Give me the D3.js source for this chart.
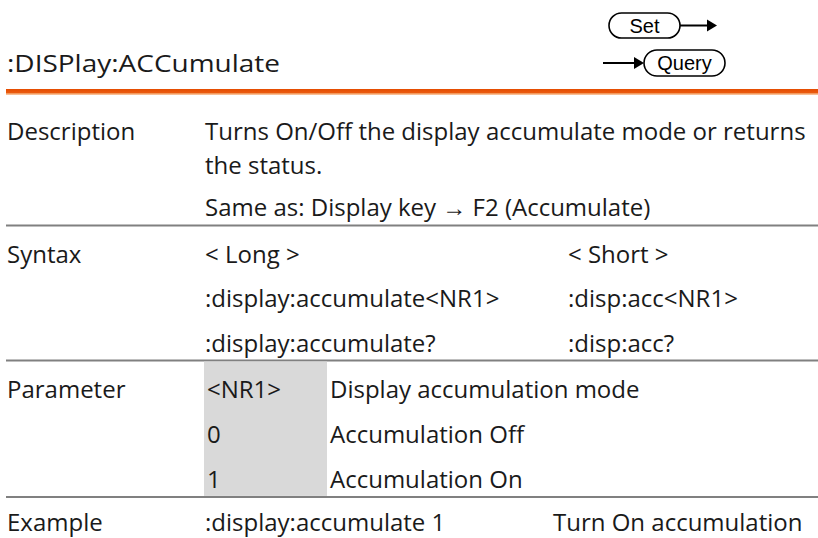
<!DOCTYPE html>
<html><head><meta charset="utf-8">
<script src="https://cdn.jsdelivr.net/npm/d3@7"></script>
<style>
html,body{margin:0;padding:0;background:#fff;}
svg{display:block;}
</style></head>
<body>
<svg id="c" width="818" height="538"></svg>
<script>
const title = ":DISPlay:ACCumulate";
const badges = ["Set", "Query"];
const rowLabels = ["Description", "Syntax", "Parameter", "Example"];
const descLines = ["Turns On/Off the display accumulate mode or returns", "the status.", "Same as: Display key \u2192 F2 (Accumulate)"];
const syntaxLong = ["< Long >", ":display:accumulate<NR1>", ":display:accumulate?"];
const syntaxShort = ["< Short >", ":disp:acc<NR1>", ":disp:acc?"];
const paramCodes = ["<NR1>", "0", "1"];
const paramDescs = ["Display accumulation mode", "Accumulation Off", "Accumulation On"];
const exampleCmd = [":display:accumulate 1"];
const exampleDesc = ["Turn On accumulation"];

const W = 818, H = 538;
const svg = d3.select("#c");
const FONT = "'Open Sans', 'Noto Sans', sans-serif";
const FS = 24;
const TXT = "#1a1a1a";

// column positions
const col = d3.scaleOrdinal().domain(["label","c2","c3","pdesc","ex2"]).range([7,205,568,330,553]);

// Title
svg.append("text").attr("x",7).attr("y",72).attr("font-family",FONT).attr("font-size",24)
  .attr("fill",TXT).attr("textLength",273).attr("lengthAdjust","spacingAndGlyphs").text(title);

// Orange rule
const grad = svg.append("defs").append("linearGradient").attr("id","og").attr("x1",0).attr("x2",0).attr("y1",0).attr("y2",1);
grad.append("stop").attr("offset","0%").attr("stop-color","#e54c00");
grad.append("stop").attr("offset","62%").attr("stop-color","#ea5a10");
grad.append("stop").attr("offset","75%").attr("stop-color","#f39a5e");
grad.append("stop").attr("offset","100%").attr("stop-color","#fbd0b0");
svg.append("rect").attr("x",6).attr("y",89).attr("width",W-6).attr("height",6).attr("fill","url(#og)");

// Badges
function pill(x0,x1,yc,h,label){
  svg.append("rect").attr("x",x0).attr("y",yc-h/2).attr("width",x1-x0).attr("height",h)
    .attr("rx",h/2).attr("ry",h/2).attr("fill","#fff").attr("stroke","#000").attr("stroke-width",1.6);
  svg.append("text").attr("x",(x0+x1)/2).attr("y",yc+7).attr("text-anchor","middle")
    .attr("font-family","'Liberation Sans', Arial, sans-serif").attr("font-size",20).attr("fill","#000").text(label);
}
function arrow(x0,x1,yc){
  svg.append("line").attr("x1",x0).attr("x2",x1-8).attr("y1",yc).attr("y2",yc).attr("stroke","#000").attr("stroke-width",2);
  svg.append("path").attr("d",`M${x1-10},${yc-6}L${x1},${yc}L${x1-10},${yc+6}Z`).attr("fill","#000");
}
pill(609,680,25.5,25,badges[0]);
arrow(680,717,25.5);
arrow(603,644,63);
pill(644,725,63,26,badges[1]);

// Gray rules
const rules = [225.5, 360.5, 497];
svg.selectAll("line.rule").data(rules).join("line").attr("class","rule")
  .attr("x1",6).attr("x2",W).attr("y1",d=>d).attr("y2",d=>d).attr("stroke","#808080").attr("stroke-width",2.2);

// Gray parameter cell
svg.append("rect").attr("x",204).attr("y",rules[1]+1.1).attr("width",123).attr("height",rules[2]-rules[1]-2.2).attr("fill","#d9d9d9");

function txt(x,yy,s){
  svg.append("text").attr("x",x).attr("y",yy).attr("font-family",FONT).attr("font-size",FS).attr("fill",TXT).text(s);
}
// Row baselines
const descY = [140, 174, 216];
const synY = [263, 307, 352];
const parY = [398, 443, 488];
const exY = [531];

txt(col("label"), descY[0], rowLabels[0]);
descLines.forEach((s,i)=>txt(col("c2"), descY[i], s));

txt(col("label"), synY[0], rowLabels[1]);
syntaxLong.forEach((s,i)=>txt(col("c2"), synY[i], s));
syntaxShort.forEach((s,i)=>txt(col("c3"), synY[i], s));

txt(col("label"), parY[0], rowLabels[2]);
paramCodes.forEach((s,i)=>txt(col("c2")+2, parY[i], s));
paramDescs.forEach((s,i)=>txt(col("pdesc"), parY[i], s));

txt(col("label"), exY[0], rowLabels[3]);
exampleCmd.forEach((s,i)=>txt(col("c2"), exY[i], s));
exampleDesc.forEach((s,i)=>txt(col("ex2"), exY[i], s));
</script>
</body></html>
